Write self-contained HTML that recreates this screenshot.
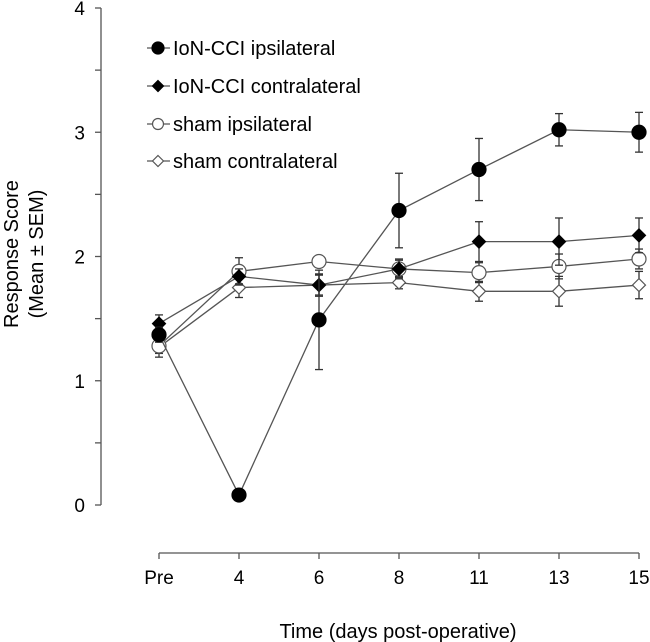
<!DOCTYPE html>
<html><head><meta charset="utf-8"><style>
html,body{margin:0;padding:0;background:#fff;}
svg{display:block;font-family:"Liberation Sans",Arial,sans-serif;}
</style></head><body>
<svg id="chart" width="650" height="642" viewBox="0 0 650 642"></svg>
<script>
const categories = ["Pre","4","6","8","11","13","15"];
const yTicks = [0,1,2,3,4];
const ionIpsi = [1.37,0.08,1.49,2.37,2.70,3.02,3.00];
const ionIpsiErr = [0.06,0.03,0.40,0.30,0.25,0.13,0.16];
const ionContra = [1.46,1.84,1.77,1.90,2.12,2.12,2.17];
const ionContraErr = [0.07,0.06,0.08,0.08,0.16,0.19,0.14];
const shamIpsi = [1.28,1.88,1.96,1.90,1.87,1.92,1.98];
const shamIpsiErr = [0.06,0.11,0.04,0.07,0.08,0.10,0.08];
const shamContra = [1.27,1.75,1.77,1.79,1.72,1.72,1.77];
const shamContraErr = [0.08,0.08,0.09,0.05,0.08,0.12,0.11];
const seriesNames = ["IoN-CCI ipsilateral","IoN-CCI contralateral","sham ipsilateral","sham contralateral"];

const NS="http://www.w3.org/2000/svg";
const svg=document.getElementById('chart');
const X0=159, X1=639, Y0=505, YTOP=8, YMAX=4;
function xPos(i){return X0+(X1-X0)*i/(categories.length-1);}
function yPos(v){return Y0-(Y0-YTOP)*v/YMAX;}
function mk(tag,attrs,parent){const e=document.createElementNS(NS,tag);for(const k in attrs)e.setAttribute(k,attrs[k]);(parent||svg).appendChild(e);return e;}

const yAxis=mk('g',{});


mk('line',{x1:101,y1:YTOP,x2:101,y2:Y0,stroke:'#555','stroke-width':1.3},yAxis);
for(let v=0;v<=YMAX;v+=0.5){
  mk('line',{x1:95,y1:yPos(v),x2:101,y2:yPos(v),stroke:'#555','stroke-width':1.3},yAxis);
}
yTicks.forEach(v=>{
  const t=mk('text',{x:85,y:yPos(v)+7,'text-anchor':'end','font-size':19,fill:'#000'},yAxis);
  t.textContent=v;
  
  
});
const xAxis=mk('g',{});


mk('line',{x1:X0,y1:553,x2:X1,y2:553,stroke:'#555','stroke-width':1.3},xAxis);
categories.forEach((c,i)=>{
  mk('line',{x1:xPos(i),y1:553,x2:xPos(i),y2:559,stroke:'#555','stroke-width':1.3},xAxis);
  const t=mk('text',{x:xPos(i),y:584,'text-anchor':'middle','font-size':19,fill:'#000'},xAxis);
  t.textContent=c;
  
  
});
const xt=mk('text',{x:398,y:638,'text-anchor':'middle','font-size':20,fill:'#000'});
xt.textContent='Time (days post-operative)';


const yt=mk('text',{transform:'translate(18,254) rotate(-90)','text-anchor':'middle','font-size':20,fill:'#000'});


const ts1=mk('tspan',{x:0,dy:0},yt);ts1.textContent='Response Score';
const ts2=mk('tspan',{x:0,dy:25},yt);ts2.textContent='(Mean \u00b1 SEM)';

function marker(g,type,cx,cy,r){
  if(type==='circle'||type==='ocircle'){
    return mk('circle',{cx:cx,cy:cy,r:r,fill:type==='circle'?'#000':'#fff',stroke:type==='circle'?'#000':'#555','stroke-width':1.2},g);
  } else {
    const s=r;
    return mk('polygon',{points:`${cx},${cy-s} ${cx+s},${cy} ${cx},${cy+s} ${cx-s},${cy}`,fill:type==='diamond'?'#000':'#fff',stroke:type==='diamond'?'#000':'#555','stroke-width':1.2},g);
  }
}
const series=[
  {vals:shamContra,err:shamContraErr,type:'odiamond',name:'sham-contralateral'},
  {vals:shamIpsi,err:shamIpsiErr,type:'ocircle',name:'sham-ipsilateral'},
  {vals:ionContra,err:ionContraErr,type:'diamond',name:'ion-cci-contralateral'},
  {vals:ionIpsi,err:ionIpsiErr,type:'circle',name:'ion-cci-ipsilateral'}
];
series.forEach(s=>{
  const g=mk('g',{});
  
  
  s.vals.forEach((v,i)=>{
    const x=xPos(i),yh=yPos(v+s.err[i]),yl=yPos(v-s.err[i]);
    const eb=mk('g',{stroke:'#333','stroke-width':1.3},g);
    
    
    mk('line',{x1:x,y1:yh,x2:x,y2:yl},eb);
    mk('line',{x1:x-4,y1:yh,x2:x+4,y2:yh},eb);
    mk('line',{x1:x-4,y1:yl,x2:x+4,y2:yl},eb);
  });
  const pts=s.vals.map((v,i)=>xPos(i)+','+yPos(v)).join(' ');
  const pl=mk('polyline',{points:pts,fill:'none',stroke:'#555','stroke-width':1.3},g);
  
  
  s.vals.forEach((v,i)=>{
    const m=marker(g,s.type,xPos(i),yPos(v),s.type.includes('diamond')?6.5:7);
    
    
  });
});
const legend=mk('g',{});


const ltypes=['circle','diamond','ocircle','odiamond'];
const ly=[48,86,124,161];
seriesNames.forEach((n,i)=>{
  const e=mk('g',{},legend);
  
  
  mk('line',{x1:147,y1:ly[i],x2:170,y2:ly[i],stroke:'#555','stroke-width':1.3},e);
  marker(e,ltypes[i],158,ly[i],ltypes[i].includes('o')?5.5:6);
  const t=mk('text',{x:173,y:ly[i]+7,'font-size':20,fill:'#000'},e);
  t.textContent=n;
});
</script>
</body></html>
